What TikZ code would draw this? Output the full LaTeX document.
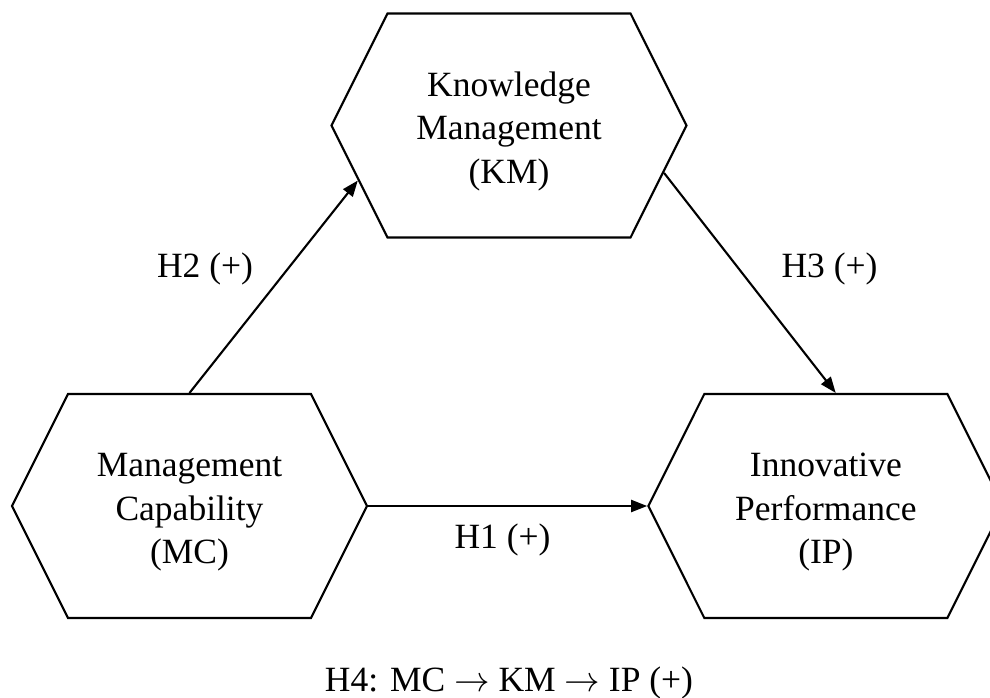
\RequirePackage{fix-cm}
\documentclass[tikz,border=0pt]{standalone}
\usepackage{fontspec}
\setmainfont{Liberation Serif}
\usetikzlibrary{arrows.meta, positioning, shapes.symbols}
\newcommand{\hexstrut}{\rule{0pt}{36pt}}
\tikzset{
	hexbox/.style={signal, signal to=east and west, signal pointer angle=126.9, draw=black, line width=2.1pt, align=center, minimum width=355pt, minimum height=224pt, inner sep=0pt, font=\fontsize{35.5}{43.5}\selectfont},
	hyplabel/.style={anchor=base, inner sep=0pt, font=\fontsize{35.5}{43.5}\selectfont},
	arrow/.style={-{Triangle[length=16pt, width=12pt]}, line width=2.1pt},
}

\begin{document}
\begin{tikzpicture}[x=1pt, y=-1pt]
	\useasboundingbox (0,0) rectangle (990,698);
	\node[hexbox] (MC) at (189.5,506) {\hexstrut Management\\Capability\\(MC)};
	\node[hexbox, right=279pt of MC] (IP) {\hexstrut Innovative\\Performance\\(IP)};
	\node[hexbox] (KM) at (509,125.5) {\hexstrut Knowledge\\Management\\(KM)};
	\draw[arrow] (MC.north) -- (KM.200);
	\draw[arrow] (KM.343) -- (IP.85);
	\draw[arrow] (MC.east) -- (IP.west);
	\node[hyplabel] (h2) at (205,277) {H2 (+)};
	\node[hyplabel] (h3) at (829.5,277) {H3 (+)};
	\node[hyplabel] (h1) at (502.5,548.5) {H1 (+)};
	\node[hyplabel] (h4) at (509,691.5) {H4: MC $\rightarrow$ KM $\rightarrow$ IP (+)};
\end{tikzpicture}
\end{document}
